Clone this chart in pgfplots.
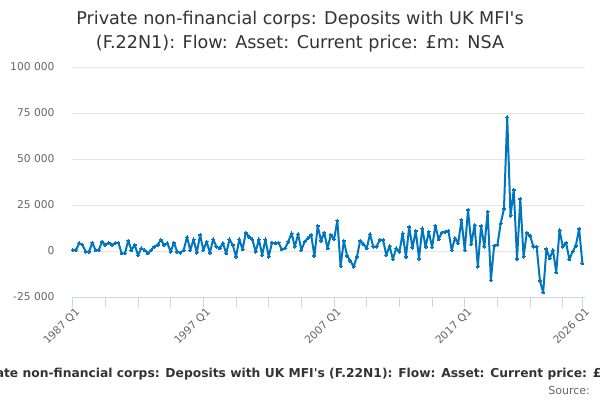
\documentclass[border=0pt]{standalone}
\usepackage{fontspec}
\setmainfont{DejaVu Sans}
\usepackage{pgfplots}
\usepackage{pgfplotstable}
\pgfplotsset{compat=1.18}
\definecolor{lineblue}{RGB}{0,118,192}
\definecolor{gridgrey}{RGB}{230,230,230}
\definecolor{axisblue}{RGB}{204,214,235}
\definecolor{titlegrey}{RGB}{51,51,51}
\definecolor{labelgrey}{RGB}{102,102,102}
\pgfplotstableread{
q v
0 500
1 500
2 4200
3 3300
4 -400
5 -400
6 4500
7 500
8 500
9 5100
10 3300
11 4500
12 3300
13 4200
14 4500
15 -1300
16 -1300
17 5600
18 500
19 3300
20 -2200
21 1400
22 500
23 -1300
24 500
25 2400
26 3300
27 6000
28 3300
29 4200
30 -400
31 4500
32 -400
33 -900
34 500
35 7600
36 500
37 6300
38 -900
39 8700
40 500
41 5100
42 -900
43 6300
44 2400
45 1400
46 4200
47 -1300
48 6300
49 3300
50 -3100
51 6300
52 900
53 10000
54 7800
55 6300
56 -400
57 6300
58 -2200
59 6300
60 -3100
61 4500
62 4200
63 4500
64 900
65 1400
66 5100
67 9600
68 2400
69 9200
70 500
71 5100
72 6900
73 8700
74 -2700
75 13600
76 5600
77 10000
78 1400
79 8700
80 6300
81 16500
82 -8200
83 5600
84 -2700
85 -5400
86 -8500
87 -3100
88 5600
89 3800
90 1400
91 9200
92 2400
93 2400
94 6000
95 6000
96 -2200
97 2700
98 -4500
99 1400
100 -400
101 9600
102 -3200
103 13200
104 1700
105 11000
106 -4100
107 12300
108 2200
109 10500
110 2000
111 13800
112 6400
113 10000
114 10500
115 10900
116 500
117 6900
118 4200
119 16900
120 500
121 22300
122 3800
123 14100
124 -8500
125 13600
126 2400
127 21400
128 -15800
129 2900
130 3300
131 15000
132 23000
133 72700
134 19200
135 33200
136 -4300
137 28300
138 -3100
139 10000
140 8200
141 2400
142 2400
143 -16100
144 -22500
145 1100
146 -4000
147 500
148 -11600
149 11400
150 2400
151 4500
152 -4500
153 -400
154 2900
155 12100
156 -6700
}\datatable
\begin{document}
\begin{tikzpicture}
\useasboundingbox (0pt,0pt) rectangle (600pt,400pt);
\clip (0pt,0pt) rectangle (600pt,400pt);
\node[anchor=base, font=\fontsize{17.6}{21}\selectfont, text=titlegrey, inner sep=0pt] at (300pt,375.6pt) {Private non-financial corps: Deposits with UK MFI\textquotesingle s};
\node[anchor=base, font=\fontsize{17.6}{21}\selectfont, text=titlegrey, inner sep=0pt] at (300pt,351.8pt) {(F.22N1): Flow: Asset: Current price: £m: NSA};
\node[anchor=base, font=\fontsize{12.3}{14}\selectfont\bfseries, text=titlegrey, inner sep=0pt] at (311pt,23pt) {Private non-financial corps: Deposits with UK MFI\textquotesingle s (F.22N1): Flow: Asset: Current price: £m: NSA};
\node[anchor=base east, font=\fontsize{11}{13}\selectfont, text=labelgrey, inner sep=0pt] at (590pt,6pt) {Source:};
\begin{axis}[
  at={(72pt,103pt)}, anchor=south west,
  scale only axis, width=513pt, height=230pt,
  xmin=-0.2, xmax=156.8, ymin=-25000, ymax=100000,
  axis x line*=bottom, axis y line*=left,
  x axis line style={draw=axisblue, line width=1pt},
  y axis line style={draw=none},
  scaled y ticks=false,
  ytick={-25000,0,25000,50000,75000,100000},
  yticklabels={-25 000,0,25 000,50 000,75 000,100 000},
  ymajorgrids, grid style={draw=gridgrey, line width=1pt},
  xtick={0,10,20,30,40,50,60,70,80,90,100,110,120,130,140,150,156},
  xticklabels={1987 Q1,,,,1997 Q1,,,,2007 Q1,,,,2017 Q1,,,,2026 Q1},
  tick align=outside, major tick length=10pt,
  xtick style={draw=axisblue, line width=1pt},
  ytick style={draw=none},
  yticklabel style={font=\fontsize{10.7}{12}\selectfont, text=labelgrey, anchor=east, xshift=-4pt},
  xticklabel style={font=\fontsize{10.7}{12}\selectfont, text=labelgrey, rotate=45, anchor=east, xshift=5pt, yshift=-6pt},
  clip=false,
]
\addplot[lineblue, line width=2pt, line join=round, mark=*, mark size=1.5pt, mark options={fill=lineblue, draw=lineblue, line width=0pt}] table[x=q, y=v] {\datatable};
\end{axis}
\end{tikzpicture}
\end{document}
